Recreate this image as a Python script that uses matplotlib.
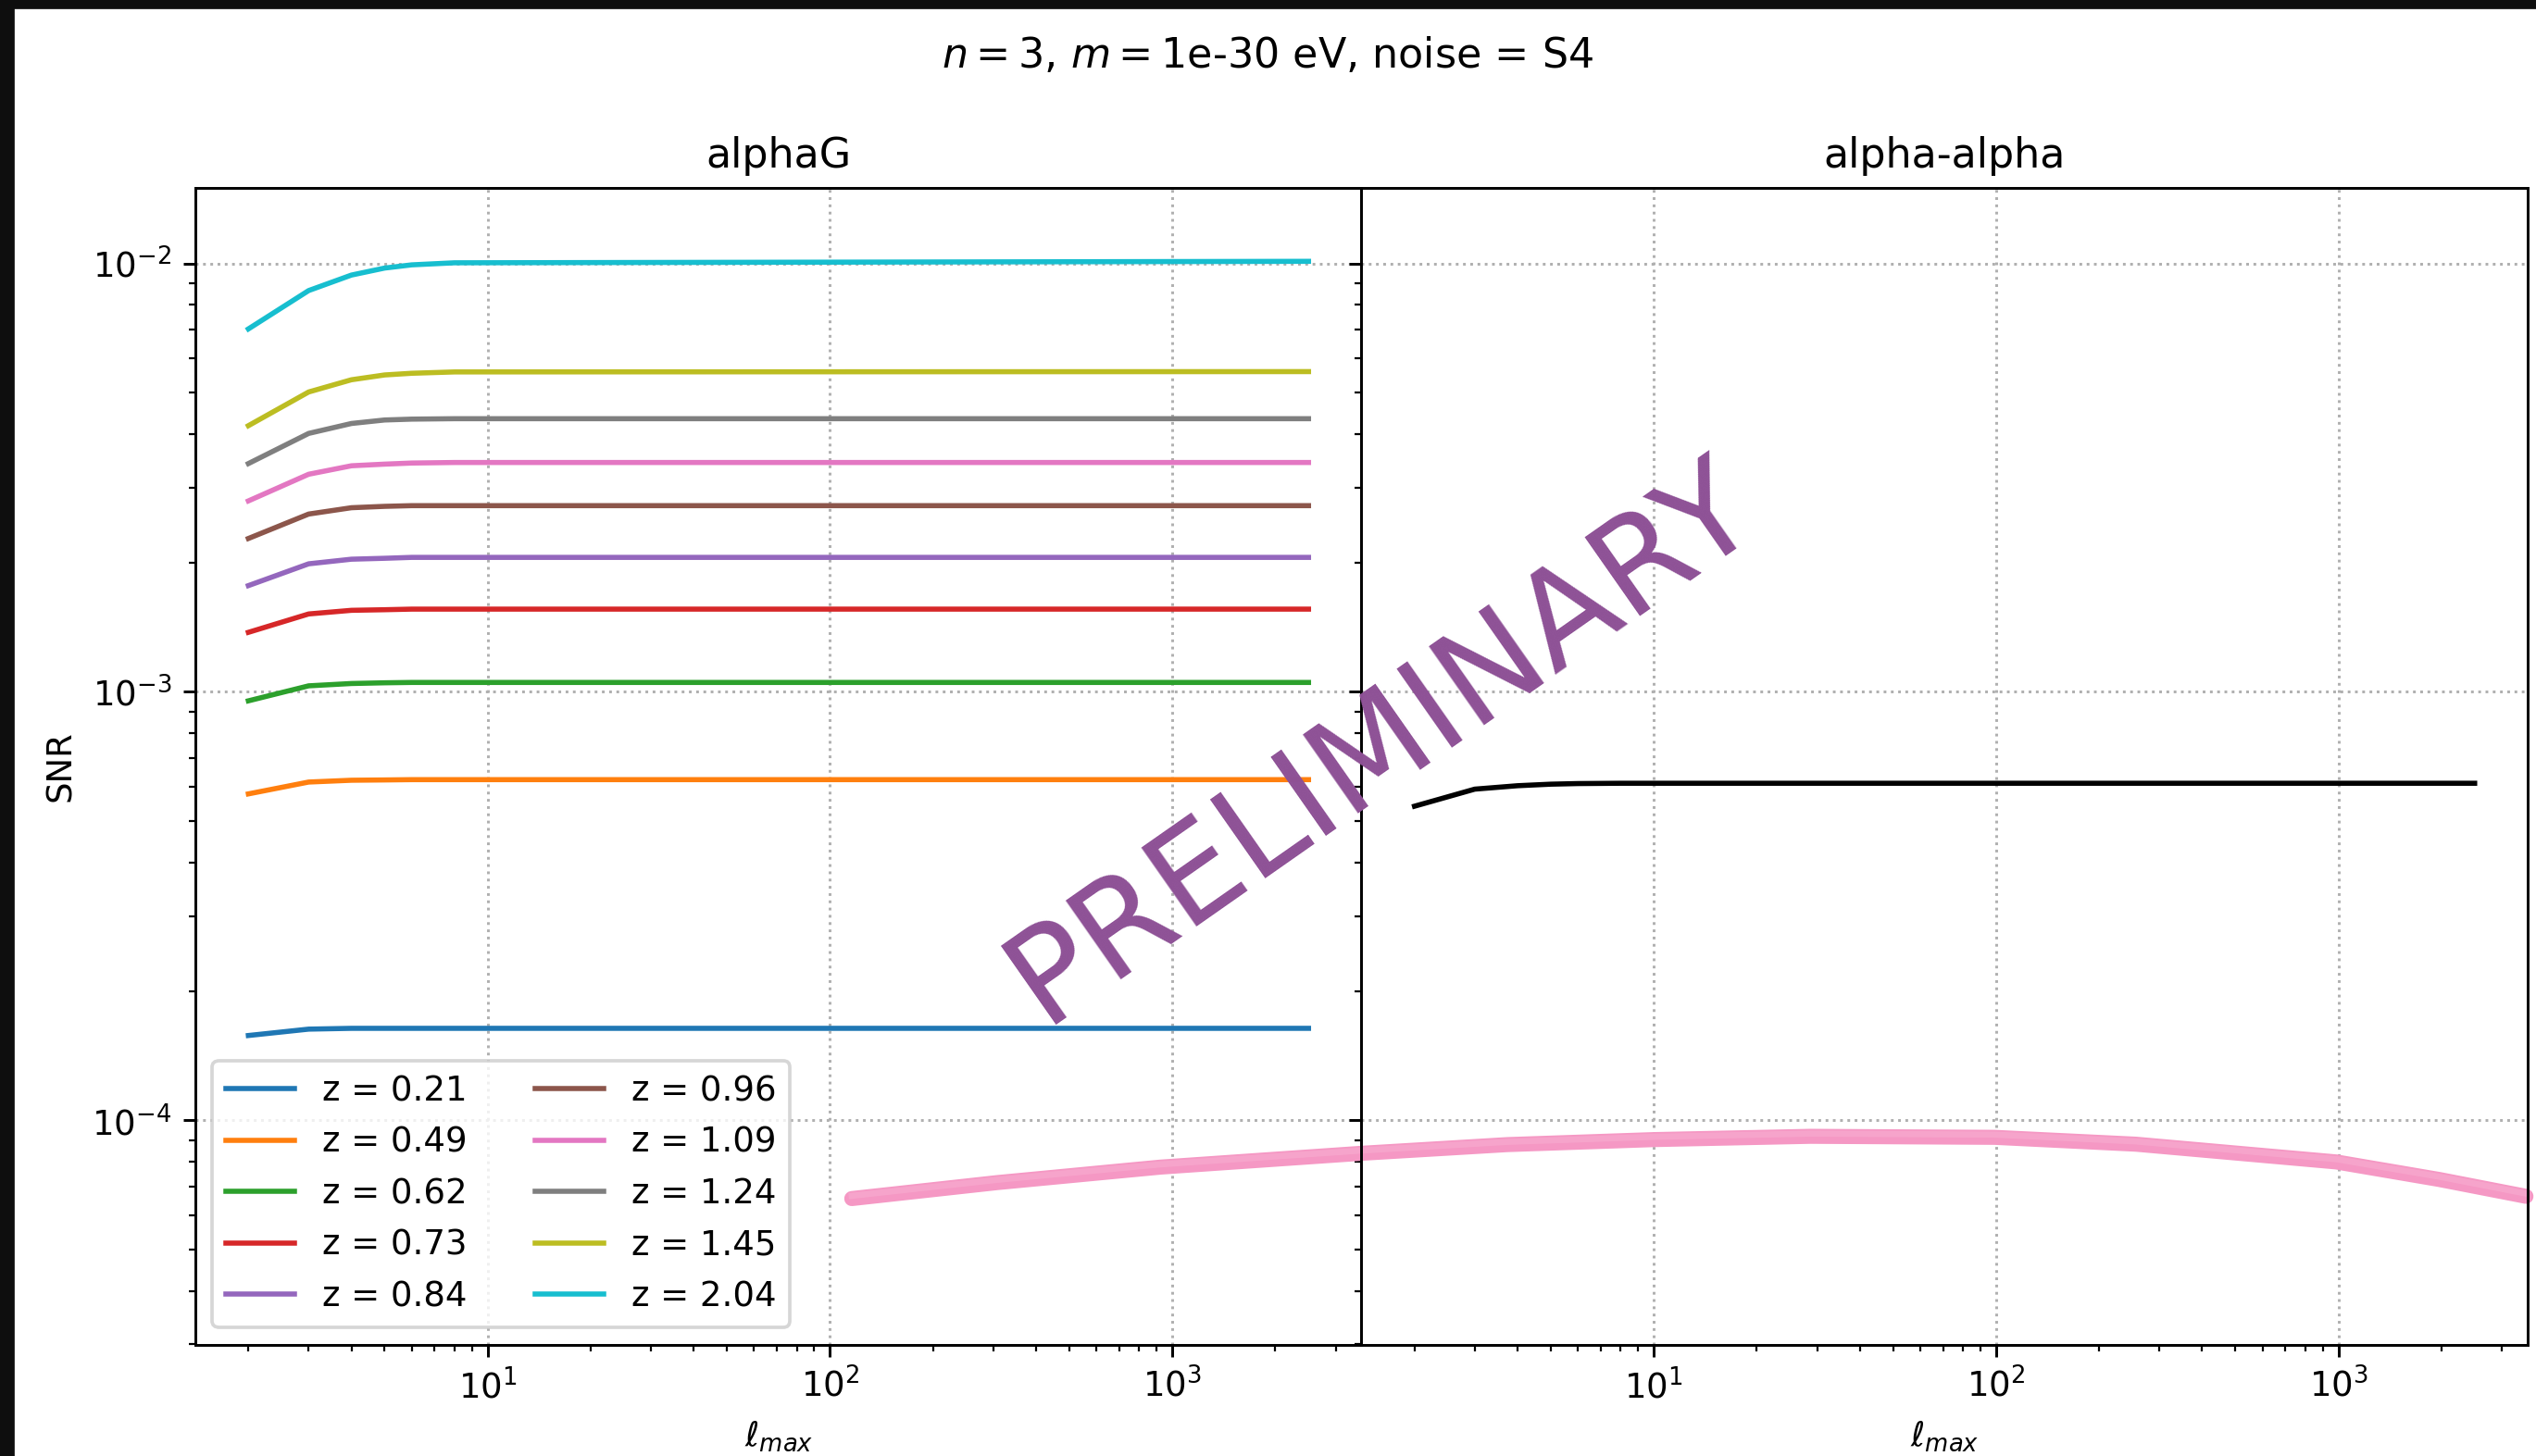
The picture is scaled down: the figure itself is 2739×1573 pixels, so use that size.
import matplotlib
matplotlib.use("Agg")
import matplotlib.pyplot as plt
from matplotlib.patches import Rectangle

# ---- data ----
ell = [2, 3, 4, 5, 6, 8, 2500]
z_labels = ["0.21", "0.49", "0.62", "0.73", "0.84", "0.96", "1.09", "1.24", "1.45", "2.04"]
snr_z021 = [1.578e-4, 1.633e-4, 1.640e-4, 1.640e-4, 1.640e-4, 1.640e-4, 1.640e-4]
snr_z049 = [5.78e-4, 6.16e-4, 6.22e-4, 6.23e-4, 6.24e-4, 6.24e-4, 6.24e-4]
snr_z062 = [9.53e-4, 1.033e-3, 1.046e-3, 1.050e-3, 1.052e-3, 1.052e-3, 1.052e-3]
snr_z073 = [1.377e-3, 1.52e-3, 1.55e-3, 1.555e-3, 1.56e-3, 1.56e-3, 1.56e-3]
snr_z084 = [1.77e-3, 1.99e-3, 2.04e-3, 2.05e-3, 2.06e-3, 2.06e-3, 2.06e-3]
snr_z096 = [2.28e-3, 2.60e-3, 2.69e-3, 2.71e-3, 2.72e-3, 2.72e-3, 2.72e-3]
snr_z109 = [2.79e-3, 3.22e-3, 3.37e-3, 3.40e-3, 3.42e-3, 3.43e-3, 3.43e-3]
snr_z124 = [3.41e-3, 4.01e-3, 4.23e-3, 4.31e-3, 4.33e-3, 4.34e-3, 4.34e-3]
snr_z145 = [4.18e-3, 5.01e-3, 5.35e-3, 5.49e-3, 5.54e-3, 5.58e-3, 5.59e-3]
snr_z204 = [7.03e-3, 8.64e-3, 9.39e-3, 9.75e-3, 9.92e-3, 1.003e-2, 1.011e-2]
snr_alpha_alpha = [5.41e-4, 5.93e-4, 6.04e-4, 6.09e-4, 6.11e-4, 6.12e-4, 6.12e-4]

# hand-drawn pink highlight stroke (right-panel data coordinates)
stroke_x = [0.0454, 0.121, 0.362, 1.40, 3.73, 10, 28.7, 99, 256, 985, 1970, 3530]
stroke_y = [6.57e-5, 7.16e-5, 7.78e-5, 8.38e-5, 8.78e-5, 9.02e-5, 9.18e-5, 9.13e-5,
            8.80e-5, 8.00e-5, 7.28e-5, 6.65e-5]

series = [snr_z021, snr_z049, snr_z062, snr_z073, snr_z084,
          snr_z096, snr_z109, snr_z124, snr_z145, snr_z204]

DPI = 266
fig, (ax1, ax2) = plt.subplots(1, 2, sharey=True, figsize=(2739 / DPI, 1573 / DPI), dpi=DPI)
fig.subplots_adjust(left=211 / 2739, right=2730 / 2739, top=1 - 203 / 1573,
                    bottom=1 - 1452.5 / 1573, wspace=0)

for lab, vals in zip(z_labels, series):
    ax1.plot(ell, vals, label=f"z = {lab}")
ax2.plot(ell, snr_alpha_alpha, color="black")

for ax in (ax1, ax2):
    ax.set_xscale("log")
    ax.set_yscale("log")
    ax.grid(True, which="major", linestyle=":")
    ax.set_xlabel(r"$\ell_{max}$")
ax1.set_ylim(3e-5, 1.5e-2)
ax1.set_ylabel("SNR")
ax1.set_title("alphaG")
ax2.set_title("alpha-alpha")
ax1.legend(loc="lower left", ncol=2)

# pink highlight stroke (does not affect autoscaling)
ax2.plot(stroke_x, stroke_y, color="#f598c4", lw=4.4, solid_capstyle="round",
         clip_on=False, zorder=1.9, scalex=False, scaley=False)
ax2.plot(stroke_x, [v * 1.015 for v in stroke_y], color="#f7a8cd", lw=1.8,
         clip_on=False, zorder=1.95, alpha=0.8, scalex=False, scaley=False)

fig.suptitle(r"$n = 3$, $m = $1e-30 eV, noise = S4", y=0.975)

fig.text(0.545, 0.490, "PRELIMINARY", fontsize=38.8, color="#8e5196",
         rotation=35, ha="center", va="center", rotation_mode="anchor", zorder=10)

# dark border strips along the left and top edges
fig.patches.append(Rectangle((0, 0), 14 / 2739, 1, transform=fig.transFigure,
                             color="#0e0e0e", zorder=20))
fig.patches.append(Rectangle((0, 1 - 8 / 1573), 1, 8 / 1573, transform=fig.transFigure,
                             color="#0e0e0e", zorder=20))

fig.savefig("out.png", dpi=DPI)
